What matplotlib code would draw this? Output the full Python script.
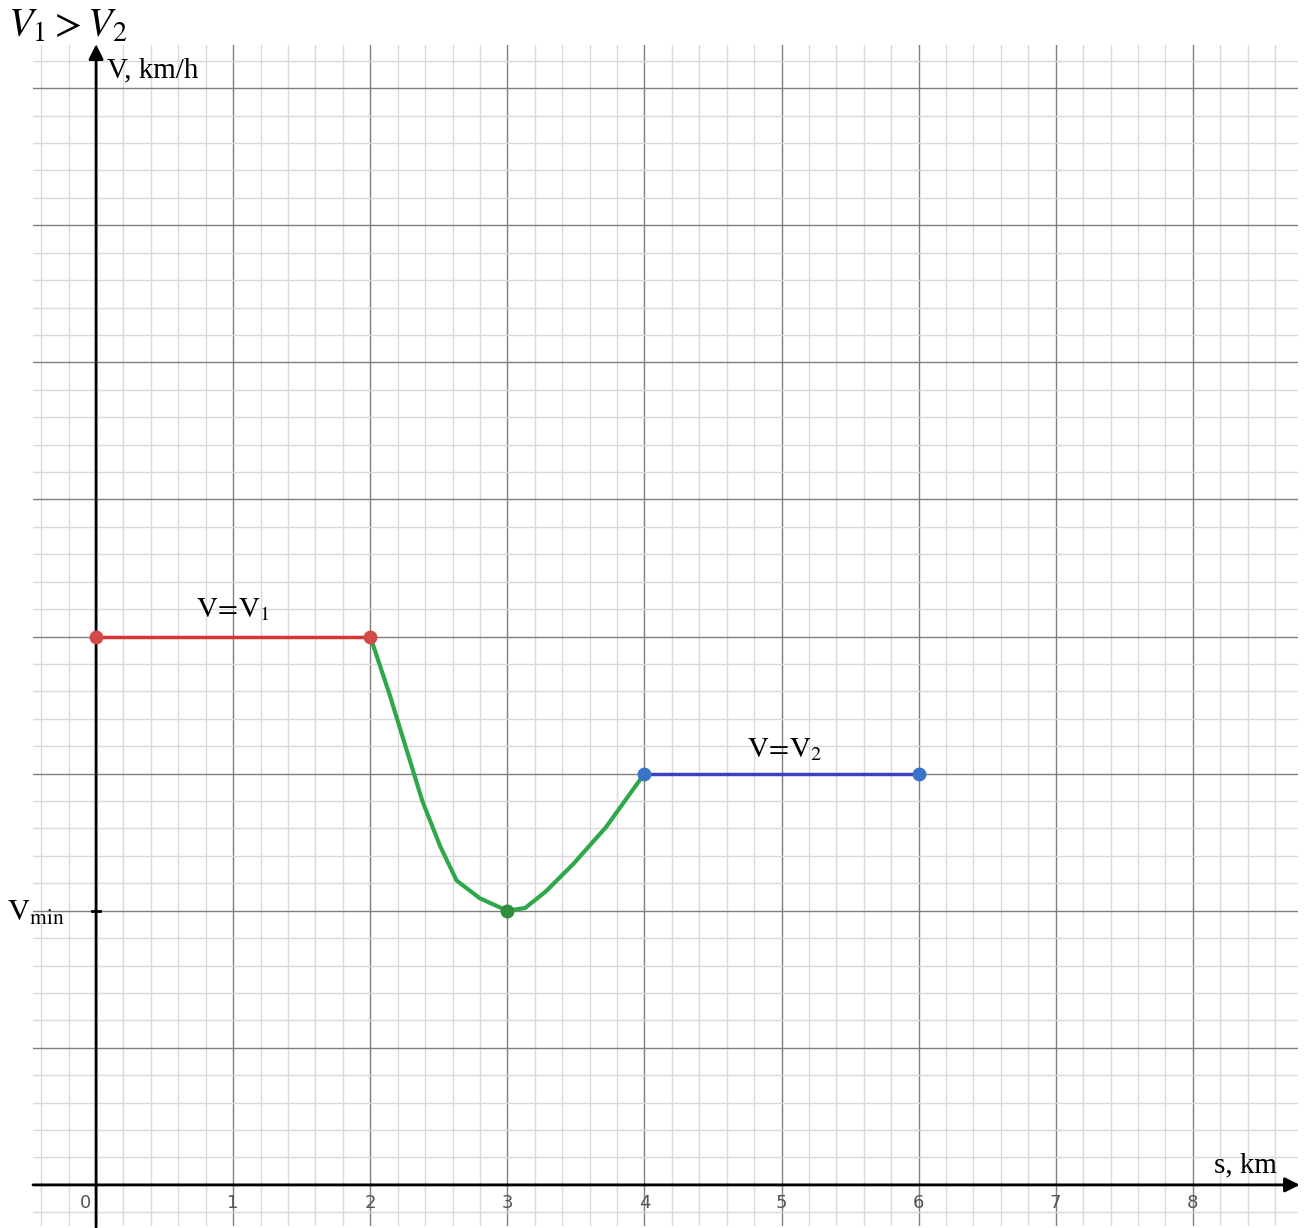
import matplotlib
matplotlib.use("Agg")
import matplotlib.pyplot as plt
from matplotlib.ticker import MultipleLocator
import numpy as np

# ---- data ----
red_x = [0, 2]
red_y = [4, 4]
blue_x = [4, 6]
blue_y = [3, 3]
green_x = [2.0, 2.14, 2.26, 2.38, 2.51, 2.63, 2.80, 3.0, 3.13, 3.28, 3.48, 3.72, 4.0]
green_y = [4.0, 3.58, 3.19, 2.80, 2.47, 2.22, 2.09, 2.0, 2.02, 2.14, 2.34, 2.61, 3.0]
vmin_point = (3, 2)
x_tick_vals = [0, 1, 2, 3, 4, 5, 6, 7, 8]
x_tick_labels = ["0", "1", "2", "3", "4", "5", "6", "7", "8"]

plt.rcParams['mathtext.fontset'] = 'stix'

W, H = 1304, 1228
fig = plt.figure(figsize=(W / 100, H / 100), dpi=100)
left_px, right_px, top_px, bot_px = 33, 1298, 45, 1226
ax = fig.add_axes([left_px / W, 1 - bot_px / H, (right_px - left_px) / W, (bot_px - top_px) / H])
ax.set_xlim(-0.46, 8.767)
ax.set_ylim(-0.30, 8.315)

ax.xaxis.set_major_locator(MultipleLocator(1))
ax.yaxis.set_major_locator(MultipleLocator(1))
ax.xaxis.set_minor_locator(MultipleLocator(0.2))
ax.yaxis.set_minor_locator(MultipleLocator(0.2))
ax.grid(which='minor', color='#d9d9d9', lw=1.0)
ax.grid(which='major', color='#7f7f7f', lw=1.0)
ax.set_axisbelow(True)
ax.tick_params(which='both', length=0, labelbottom=False, labelleft=False)
for s in ax.spines.values():
    s.set_visible(False)

# axes with arrows
ax.annotate('', xy=(8.78, 0), xytext=(-0.46, 0), xycoords='data',
            arrowprops=dict(arrowstyle='-|>', color='black', lw=2.0, mutation_scale=22,
                            shrinkA=0, shrinkB=0), annotation_clip=False)
ax.annotate('', xy=(0, 8.32), xytext=(0, -0.31), xycoords='data',
            arrowprops=dict(arrowstyle='-|>', color='black', lw=2.0, mutation_scale=22,
                            shrinkA=0, shrinkB=0), annotation_clip=False)

# tick labels
for v, lab in zip(x_tick_vals, x_tick_labels):
    xx = v - 0.08 if v == 0 else v
    ax.text(xx, -0.135, lab, ha='center', va='center', fontsize=13, color='#555555',
            family='DejaVu Sans')

# Vmin tick
ax.plot([-0.03, 0.03], [2, 2], color='black', lw=2)
ax.text(-0.44, 1.99, r'$\mathrm{V}_{\mathrm{min}}$', ha='center', va='center', fontsize=22, color='black')

# series
ax.plot(red_x, red_y, color='#d93434', lw=2.5, solid_capstyle='butt', zorder=3)
ax.plot(blue_x, blue_y, color='#3c40c4', lw=2.5, solid_capstyle='butt', zorder=3)
ax.plot(green_x, green_y, color='#2ea84a', lw=3.0, zorder=3)
ax.plot(red_x, red_y, 'o', color='#d24b4b', ms=9, zorder=4)
ax.plot(blue_x, blue_y, 'o', color='#3a74c6', ms=9, zorder=4)
ax.plot([vmin_point[0]], [vmin_point[1]], 'o', color='#2e8e3e', ms=9, zorder=4)

# labels
ax.text(1.0, 4.2, r'$\mathrm{V\!=\!V}_{1}$', ha='center', va='center', fontsize=21)
ax.text(5.02, 3.18, r'$\mathrm{V\!=\!V}_{2}$', ha='center', va='center', fontsize=21)
ax.text(0.08, 8.13, 'V, km/h', ha='left', va='center', fontsize=21, family='Liberation Serif')
ax.text(8.38, 0.14, 's, km', ha='center', va='center', fontsize=21, family='Liberation Serif')

fig.text(8 / W, 1 - 26 / H, r'$V_1 > V_2$', ha='left', va='center', fontsize=29)

fig.savefig('out.png', dpi=100)
